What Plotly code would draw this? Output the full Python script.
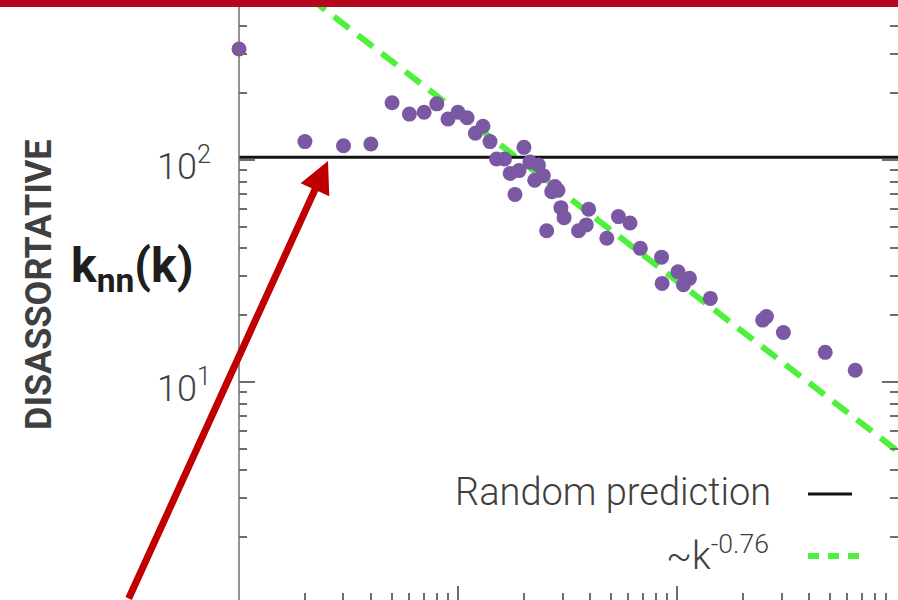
import plotly.graph_objects as go

# ---------------- data ----------------
degree_k = [1, 2, 3, 4, 5, 6, 7, 8, 9, 10, 11, 12, 13, 14, 15, 16.3, 17.3, 18.2, 19, 20,
            21.3, 22.4, 23.3, 24.5, 25.4, 26.8, 27.7, 28.6, 29.5, 30.5, 35.5, 38.5, 39.5,
            47.8, 54, 61, 68, 85, 85.5, 101, 107, 114, 142, 246, 256, 306, 475, 651]
knn_values = [316, 121, 116, 118, 181, 161, 164, 179, 153, 164, 155, 132, 142, 121, 101, 101,
              87, 70, 89.6, 114, 98, 81, 95, 85, 48, 72, 76, 73, 61, 55, 48, 51, 60,
              44.4, 55.6, 52, 40, 36.5, 27.8, 31.4, 27.4, 29.3, 23.8, 19.0, 19.7, 16.7, 13.6, 11.3]

random_k = [1, 1100]
random_knn = [103, 103]

fit_k = [1, 1100]          # ~k^-0.76
fit_knn = [945, 4.6]

y_tickvals = [10, 100]
y_ticktext = ["10<sup>1</sup>", "10<sup>2</sup>"]
y_minor = [2, 3, 4, 5, 6, 7, 8, 9, 20, 30, 40, 50, 60, 70, 80, 90, 200, 300, 400, 500]
x_tickvals = [10, 100]
x_minor = [2, 3, 4, 5, 6, 7, 8, 9, 20, 30, 40, 50, 60, 70, 80, 90,
           200, 300, 400, 500, 600, 700, 800, 900]

legend_labels = ["Random prediction", "~k<sup>-0.76</sup>"]
y_title = "k<sub>nn</sub>(k)"
side_title = "DISASSORTATIVE"

# ---------------- figure ----------------
W, H = 898, 600
L = 239
PW = W - L


def px(x):
    return (x - L) / PW


def py(y):
    return 1 - y / H


PURPLE = "#7B58A3"
GREEN = "#4DF03A"
RED = "#C00000"
AXIS = "#6E6E6E"
TXT = "#3F3F3F"

fig = go.Figure()

fig.add_trace(go.Scatter(x=fit_k, y=fit_knn, mode="lines",
                         line=dict(color=GREEN, width=6, dash="19px,11px"),
                         showlegend=False, hoverinfo="skip"))
fig.add_trace(go.Scatter(x=random_k, y=random_knn, mode="lines",
                         line=dict(color="#111111", width=3),
                         showlegend=False, hoverinfo="skip"))
fig.add_trace(go.Scatter(x=degree_k, y=knn_values, mode="markers",
                         marker=dict(color=PURPLE, size=15, line=dict(width=0)),
                         cliponaxis=False, showlegend=False))

fig.update_xaxes(type="log", range=[0, 3.009], showgrid=False, zeroline=False,
                 showline=False, mirror=False,
                 tickvals=x_tickvals, showticklabels=False,
                 ticks="inside", ticklen=14, tickwidth=1.5, tickcolor=AXIS,
                 minor=dict(tickvals=x_minor, ticks="inside", ticklen=7,
                            tickwidth=1.5, tickcolor=AXIS, showgrid=False))
fig.update_yaxes(type="log", range=[0.018, 2.7207], showgrid=False, zeroline=False,
                 showline=False, mirror="ticks",
                 tickvals=y_tickvals, ticktext=y_ticktext,
                 ticks="inside", ticklen=16, tickwidth=1.5, tickcolor=AXIS,
                 ticklabelstandoff=27, ticklabelshift=6,
                 tickfont=dict(family="Roboto", size=36, color=TXT, weight=300),
                 minor=dict(tickvals=y_minor, ticks="inside", ticklen=8,
                            tickwidth=1.5, tickcolor=AXIS, showgrid=False))

shapes = [
    # left axis line
    dict(type="line", xref="paper", yref="paper", x0=0, x1=0, y0=0, y1=1,
         line=dict(color=AXIS, width=1.5)),
    # top red bar
    dict(type="rect", xref="paper", yref="paper", x0=px(0), x1=px(W), y0=py(7), y1=1.0,
         fillcolor="#B5081F", line=dict(width=0)),
    # legend samples
    dict(type="line", xref="paper", yref="paper", x0=px(808), x1=px(852), y0=py(494), y1=py(494),
         line=dict(color="#111111", width=3)),
    dict(type="line", xref="paper", yref="paper", x0=px(808), x1=px(860), y0=py(556), y1=py(556),
         line=dict(color=GREEN, width=6, dash="11px,9px")),
]
fig.update_layout(shapes=shapes)

annotations = [
    dict(text=legend_labels[0], xref="paper", yref="paper", x=px(773), y=py(492),
         xanchor="right", yanchor="middle", showarrow=False,
         font=dict(family="Roboto", size=38, color=TXT, weight=300)),
    dict(text=legend_labels[1], xref="paper", yref="paper", x=px(771), y=py(553),
         xanchor="right", yanchor="middle", showarrow=False,
         font=dict(family="Roboto", size=38, color=TXT, weight=300)),
    dict(text=y_title, xref="paper", yref="paper", x=px(132), y=py(268),
         xanchor="center", yanchor="middle", showarrow=False,
         font=dict(family="Roboto", size=48, color="#1E1E1E", weight=700)),
    dict(text=side_title, xref="paper", yref="paper", x=px(39), y=py(285),
         xanchor="center", yanchor="middle", showarrow=False, textangle=-90,
         font=dict(family="Liberation Sans Narrow, Roboto", size=36, color=TXT, weight=700)),
    # red arrow
    dict(text="", xref="paper", yref="paper", x=px(328), y=py(161),
         ax=-200, ay=460, axref="pixel", ayref="pixel",
         showarrow=True, arrowhead=2, arrowsize=0.9, arrowwidth=7, arrowcolor=RED),
]
fig.update_layout(annotations=annotations)

fig.update_layout(width=W, height=H, margin=dict(l=L, r=0, t=0, b=0, pad=0),
                  plot_bgcolor="white", paper_bgcolor="white", showlegend=False)

fig.write_html("out.html")
